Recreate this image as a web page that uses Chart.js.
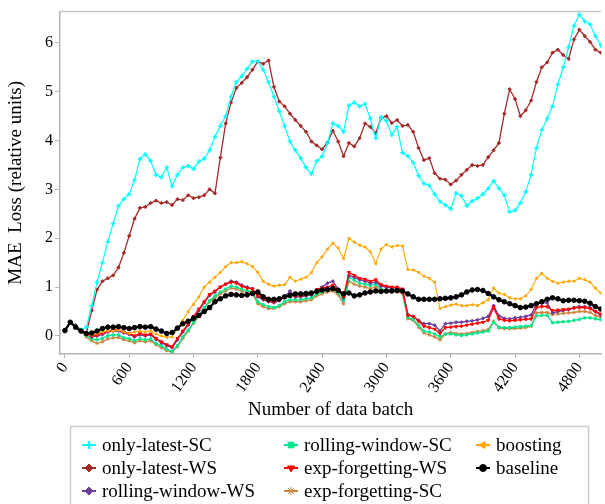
<!DOCTYPE html>
<html>
<head>
<meta charset="utf-8">
<script src="https://cdn.jsdelivr.net/npm/chart.js@4.4.1/dist/chart.umd.min.js"></script>
<style>
  html, body { margin: 0; padding: 0; background: #fff; }
  #wrap { width: 605px; height: 504px; position: relative; }
</style>
</head>
<body>
<div id="wrap"><canvas id="c" width="605" height="504"></canvas></div>
<script>
// Number of data batch (x positions of every sample)
const batches = [
  0, 50, 100, 150, 200, 250, 300, 350, 400, 450,
  500, 550, 600, 650, 700, 750, 800, 850, 900, 950,
  1000, 1050, 1100, 1150, 1200, 1250, 1300, 1350, 1400, 1450,
  1500, 1550, 1600, 1650, 1700, 1750, 1800, 1850, 1900, 1950,
  2000, 2050, 2100, 2150, 2200, 2250, 2300, 2350, 2400, 2450,
  2500, 2550, 2600, 2650, 2700, 2750, 2800, 2850, 2900, 2950,
  3000, 3050, 3100, 3150, 3200, 3250, 3300, 3350, 3400, 3450,
  3500, 3550, 3600, 3650, 3700, 3750, 3800, 3850, 3900, 3950,
  4000, 4050, 4100, 4150, 4200, 4250, 4300, 4350, 4400, 4450,
  4500, 4550, 4600, 4650, 4700, 4750, 4800, 4850, 4900, 4950,
  5000
];

// MAE loss per strategy (relative units)
const onlyLatestSC = [
  0.12, 0.28, 0.20, 0.12, 0.18, 0.62, 1.10, 1.50, 1.93, 2.30,
  2.66, 2.80, 2.90, 3.20, 3.62, 3.72, 3.58, 3.30, 3.25, 3.45,
  3.07, 3.30, 3.45, 3.48, 3.42, 3.57, 3.63, 3.80, 4.08, 4.30,
  4.50, 4.90, 5.20, 5.32, 5.47, 5.62, 5.62, 5.45, 5.20, 4.90,
  4.60, 4.30, 3.98, 3.80, 3.64, 3.45, 3.32, 3.58, 3.68, 3.95,
  4.35, 4.30, 4.18, 4.72, 4.78, 4.70, 4.75, 4.45, 4.05, 4.48,
  4.40, 4.12, 4.28, 3.75, 3.68, 3.55, 3.28, 3.12, 3.08, 2.90,
  2.75, 2.68, 2.60, 2.92, 2.87, 2.66, 2.76, 2.82, 2.90, 3.02,
  3.17, 3.02, 2.88, 2.54, 2.57, 2.72, 2.95, 3.30, 3.85, 4.22,
  4.45, 4.70, 5.15, 5.50, 5.92, 6.35, 6.58, 6.44, 6.38, 6.14,
  5.95
];
const onlyLatestWS = [
  0.12, 0.28, 0.22, 0.12, 0.06, 0.52, 0.95, 1.12, 1.18, 1.24,
  1.40, 1.70, 2.05, 2.40, 2.62, 2.64, 2.72, 2.77, 2.72, 2.74,
  2.68, 2.80, 2.78, 2.88, 2.82, 2.84, 2.88, 3.00, 2.92, 3.65,
  4.35, 4.78, 5.08, 5.18, 5.30, 5.45, 5.62, 5.57, 5.64, 5.10,
  4.80, 4.70, 4.55, 4.42, 4.30, 4.18, 3.98, 3.90, 3.82, 3.96,
  4.20, 3.98, 3.68, 3.95, 3.88, 4.05, 4.35, 4.28, 4.15, 4.46,
  4.50, 4.36, 4.42, 4.30, 4.32, 4.18, 3.85, 3.60, 3.64, 3.33,
  3.22, 3.20, 3.10, 3.18, 3.30, 3.40, 3.50, 3.48, 3.50, 3.66,
  3.80, 3.95, 4.55, 5.05, 4.85, 4.50, 4.62, 4.82, 5.20, 5.50,
  5.60, 5.80, 5.86, 5.75, 5.67, 6.07, 6.27, 6.14, 6.02, 5.86,
  5.80
];
const rollingWindowWS = [
  0.11, 0.28, 0.18, 0.10, 0.03, -0.02, 0.00, 0.03, 0.08, 0.10,
  0.10, 0.06, 0.03, -0.02, 0.02, 0.00, 0.02, -0.07, -0.14, -0.20,
  -0.24, -0.08, 0.08, 0.22, 0.38, 0.52, 0.68, 0.83, 0.90, 1.00,
  1.06, 1.12, 1.10, 1.04, 1.00, 0.97, 0.80, 0.74, 0.70, 0.68,
  0.72, 0.80, 0.92, 0.80, 0.80, 0.82, 0.84, 0.94, 1.00, 1.08,
  1.12, 0.96, 0.78, 1.24, 1.20, 1.15, 1.12, 1.08, 1.10, 1.02,
  1.00, 0.98, 0.98, 0.94, 0.44, 0.40, 0.32, 0.25, 0.25, 0.22,
  0.10, 0.25, 0.26, 0.28, 0.28, 0.30, 0.31, 0.33, 0.36, 0.40,
  0.62, 0.41, 0.36, 0.35, 0.37, 0.38, 0.40, 0.43, 0.66, 0.67,
  0.68, 0.47, 0.50, 0.52, 0.54, 0.58, 0.60, 0.60, 0.58, 0.50,
  0.42
];
const rollingWindowSC = [
  0.11, 0.28, 0.18, 0.10, 0.01, -0.06, -0.08, -0.05, 0.00, 0.02,
  0.02, -0.04, -0.06, -0.10, -0.06, -0.08, -0.06, -0.15, -0.20, -0.27,
  -0.32, -0.20, -0.02, 0.12, 0.28, 0.42, 0.58, 0.72, 0.82, 0.90,
  0.96, 1.02, 1.00, 0.96, 0.92, 0.90, 0.70, 0.64, 0.60, 0.58,
  0.62, 0.70, 0.74, 0.74, 0.74, 0.76, 0.78, 0.86, 0.90, 0.94,
  0.96, 0.88, 0.72, 1.20, 1.14, 1.08, 1.06, 1.03, 1.06, 0.96,
  0.94, 0.93, 0.93, 0.90, 0.38, 0.34, 0.22, 0.10, 0.08, 0.04,
  -0.02, 0.04, 0.04, 0.02, 0.01, 0.02, 0.04, 0.06, 0.08, 0.10,
  0.28, 0.18, 0.17, 0.17, 0.18, 0.19, 0.20, 0.21, 0.41, 0.42,
  0.42, 0.27, 0.28, 0.29, 0.30, 0.32, 0.34, 0.37, 0.37, 0.35,
  0.33
];
const expForgettingWS = [
  0.11, 0.28, 0.18, 0.10, 0.04, 0.00, 0.02, 0.05, 0.10, 0.12,
  0.13, 0.08, 0.05, 0.00, 0.05, 0.02, 0.04, -0.05, -0.12, -0.18,
  -0.22, -0.05, 0.10, 0.25, 0.40, 0.55, 0.70, 0.85, 0.92, 1.00,
  1.06, 1.10, 1.08, 1.02, 0.98, 0.96, 0.82, 0.76, 0.72, 0.70,
  0.74, 0.80, 0.82, 0.82, 0.82, 0.84, 0.86, 0.95, 0.98, 1.00,
  1.04, 0.95, 0.80, 1.30, 1.24, 1.18, 1.16, 1.12, 1.15, 1.05,
  1.02, 1.00, 1.00, 0.96, 0.42, 0.40, 0.30, 0.20, 0.17, 0.14,
  0.05, 0.17, 0.18, 0.19, 0.20, 0.22, 0.24, 0.26, 0.28, 0.32,
  0.58, 0.35, 0.32, 0.31, 0.32, 0.33, 0.34, 0.35, 0.58, 0.60,
  0.60, 0.52, 0.53, 0.54, 0.55, 0.57, 0.58, 0.58, 0.56, 0.50,
  0.45
];
const expForgettingSC = [
  0.11, 0.28, 0.18, 0.10, -0.02, -0.10, -0.15, -0.12, -0.06, -0.04,
  -0.03, -0.08, -0.10, -0.14, -0.10, -0.12, -0.10, -0.18, -0.24, -0.30,
  -0.33, -0.22, -0.05, 0.10, 0.26, 0.40, 0.56, 0.70, 0.78, 0.86,
  0.92, 0.98, 0.96, 0.92, 0.88, 0.86, 0.66, 0.60, 0.56, 0.56,
  0.60, 0.66, 0.70, 0.70, 0.70, 0.72, 0.74, 0.82, 0.86, 0.90,
  0.92, 0.84, 0.66, 1.12, 1.06, 1.02, 1.00, 0.97, 1.00, 0.92,
  0.90, 0.90, 0.90, 0.87, 0.35, 0.32, 0.18, 0.06, 0.02, -0.02,
  -0.08, 0.04, 0.07, 0.05, 0.04, 0.05, 0.07, 0.09, 0.11, 0.13,
  0.30, 0.16, 0.15, 0.15, 0.15, 0.16, 0.17, 0.20, 0.47, 0.48,
  0.48, 0.44, 0.45, 0.46, 0.47, 0.48, 0.50, 0.50, 0.48, 0.42,
  0.38
];
const boosting = [
  0.11, 0.28, 0.18, 0.10, 0.02, 0.02, 0.05, 0.08, 0.10, 0.10,
  0.12, 0.08, 0.05, 0.08, 0.10, 0.08, 0.10, 0.04, 0.00, -0.03,
  -0.02, 0.15, 0.32, 0.50, 0.65, 0.80, 1.00, 1.10, 1.20, 1.30,
  1.42, 1.50, 1.50, 1.52, 1.48, 1.42, 1.30, 1.12, 1.06, 1.02,
  1.04, 1.05, 1.20, 1.12, 1.16, 1.20, 1.30, 1.50, 1.62, 1.78,
  1.90, 1.80, 1.58, 2.00, 1.92, 1.86, 1.82, 1.72, 1.48, 1.78,
  1.87, 1.82, 1.85, 1.84, 1.36, 1.35, 1.30, 1.22, 1.18, 1.10,
  0.56, 0.60, 0.63, 0.65, 0.62, 0.62, 0.64, 0.62, 0.68, 0.74,
  0.98, 0.88, 0.85, 0.78, 0.76, 0.76, 0.82, 0.95, 1.18, 1.28,
  1.18, 1.12, 1.08, 1.10, 1.12, 1.12, 1.18, 1.15, 1.10, 0.98,
  0.88
];
const baseline = [
  0.11, 0.28, 0.18, 0.10, 0.05, 0.06, 0.10, 0.15, 0.18, 0.18,
  0.19, 0.17, 0.15, 0.17, 0.19, 0.18, 0.19, 0.14, 0.10, 0.05,
  0.07, 0.16, 0.25, 0.30, 0.36, 0.42, 0.50, 0.58, 0.70, 0.76,
  0.82, 0.85, 0.84, 0.83, 0.84, 0.87, 0.90, 0.80, 0.75, 0.75,
  0.76, 0.80, 0.83, 0.86, 0.86, 0.87, 0.88, 0.91, 0.94, 0.95,
  0.97, 0.93, 0.86, 0.88, 0.82, 0.84, 0.88, 0.90, 0.92, 0.91,
  0.92, 0.92, 0.93, 0.92, 0.86, 0.80, 0.75, 0.75, 0.75, 0.75,
  0.76, 0.77, 0.78, 0.80, 0.84, 0.90, 0.94, 0.95, 0.93, 0.87,
  0.80, 0.74, 0.70, 0.66, 0.62, 0.58, 0.59, 0.62, 0.66, 0.70,
  0.75, 0.78, 0.76, 0.72, 0.73, 0.73, 0.72, 0.71, 0.67, 0.60,
  0.55
];

// Axis tick values
const xTickValues = [0, 600, 1200, 1800, 2400, 3000, 3600, 4200, 4800];
const yTickValues = [0, 1, 2, 3, 4, 5, 6];

const seriesNames = [
  'only-latest-SC', 'only-latest-WS', 'rolling-window-WS',
  'rolling-window-SC', 'exp-forgetting-WS', 'exp-forgetting-SC',
  'boosting', 'baseline'
];
const seriesValues = [
  onlyLatestSC, onlyLatestWS, rollingWindowWS,
  rollingWindowSC, expForgettingWS, expForgettingSC,
  boosting, baseline
];

// Visual style of each series: colour, marker, draw order (lower = on top)
const styles = [
  { color: '#00ffff', pointStyle: 'cross',    rotation: 0,   radius: 2.2, pbw: 1.5, lw: 1.2, order: 2 },
  { color: '#a52a2a', pointStyle: 'rectRot',  rotation: 0,   radius: 1.7, pbw: 1,   lw: 1.3, order: 3 },
  { color: '#6a3d9a', pointStyle: 'rectRot',  rotation: 0,   radius: 1.6, pbw: 1,   lw: 1.3, order: 5 },
  { color: '#00e68c', pointStyle: 'rect',     rotation: 0,   radius: 1.5, pbw: 1,   lw: 1.3, order: 6 },
  { color: '#ff0000', pointStyle: 'triangle', rotation: 180, radius: 1.8, pbw: 1,   lw: 1.3, order: 4 },
  { color: '#cd853f', pointStyle: 'star',     rotation: 0,   radius: 1.8, pbw: 1,   lw: 1.3, order: 7 },
  { color: '#ffa500', pointStyle: 'triangle', rotation: 270, radius: 1.5, pbw: 1,   lw: 1.1, order: 1 },
  { color: '#000000', pointStyle: 'circle',   rotation: 0,   radius: 2.3, pbw: 1,   lw: 2.2, order: 0 }
];

const datasets = seriesNames.map((name, k) => {
  const s = styles[k];
  return {
    label: name,
    data: batches.map((b, i) => ({ x: b, y: seriesValues[k][i] })),
    borderColor: s.color,
    backgroundColor: s.color,
    borderWidth: s.lw,
    pointStyle: s.pointStyle,
    pointRotation: s.rotation,
    pointRadius: s.radius,
    pointHoverRadius: s.radius,
    pointBorderWidth: s.pbw,
    pointBackgroundColor: s.color,
    pointBorderColor: s.color,
    tension: 0,
    order: s.order
  };
});

const SERIF = "'Liberation Serif', 'Times New Roman', serif";
const AXIS_GREY = '#b4b4b4';

// Thin frame line along the top of the plot area
const topFrame = {
  id: 'topFrame',
  afterDraw(chart) {
    const { ctx, chartArea: a } = chart;
    ctx.save();
    ctx.strokeStyle = '#c8c8c8';
    ctx.lineWidth = 1.5;
    ctx.beginPath();
    ctx.moveTo(a.left, a.top);
    ctx.lineTo(a.right, a.top);
    ctx.stroke();
    ctx.restore();
  }
};

// Three-column legend in a framed box under the x-axis (filled column by column)
const boxLegend = {
  id: 'boxLegend',
  afterDraw(chart) {
    const ctx = chart.ctx;
    const textX = [102, 304, 496];
    const rowY = [445, 468, 491];
    ctx.save();
    ctx.strokeStyle = '#cccccc';
    ctx.lineWidth = 1.5;
    ctx.strokeRect(70.5, 426.5, 518, 100);
    ctx.font = '19px ' + SERIF;
    ctx.textBaseline = 'middle';
    ctx.textAlign = 'left';
    chart.data.datasets.forEach((ds, i) => {
      const col = Math.floor(i / 3), row = i % 3;
      const tx = textX[col], ty = rowY[row];
      const s = styles[i];
      ctx.strokeStyle = s.color;
      ctx.fillStyle = s.color;
      ctx.lineWidth = 2;
      ctx.beginPath();
      ctx.moveTo(tx - 20, ty);
      ctx.lineTo(tx - 6, ty);
      ctx.stroke();
      ctx.lineWidth = s.pointStyle === 'cross' ? 2.2 : 1;
      Chart.helpers.drawPoint(ctx, {
        pointStyle: s.pointStyle,
        rotation: s.rotation,
        radius: s.pointStyle === 'circle' ? 3.5 : 4,
        borderWidth: ctx.lineWidth
      }, tx - 13, ty);
      ctx.fillStyle = '#000';
      ctx.fillText(ds.label, tx, ty + 1);
    });
    ctx.restore();
  }
};

new Chart(document.getElementById('c'), {
  type: 'line',
  data: { datasets },
  plugins: [topFrame, boxLegend],
  options: {
    responsive: false,
    animation: false,
    events: [],
    layout: { padding: { left: 0, right: 1, top: 7, bottom: 83 } },
    plugins: { legend: { display: false }, tooltip: { enabled: false } },
    scales: {
      x: {
        type: 'linear',
        min: -46,
        max: 5005,
        afterBuildTicks: (scale) => { scale.ticks = xTickValues.map(v => ({ value: v })); },
        afterFit: (scale) => { scale.height = 67; },
        ticks: {
          color: '#000',
          font: { family: SERIF, size: 16 },
          minRotation: 55,
          maxRotation: 55,
          padding: 1,
          callback: (v) => String(v)
        },
        grid: { drawOnChartArea: false, drawTicks: true, tickLength: 4, color: AXIS_GREY, lineWidth: 1 },
        border: { display: true, color: AXIS_GREY, width: 1.5 },
        title: {
          display: true,
          text: 'Number of data batch',
          color: '#000',
          font: { family: SERIF, size: 19 },
          padding: { top: 0, bottom: 0 }
        }
      },
      y: {
        type: 'linear',
        min: -0.37,
        max: 6.64,
        afterBuildTicks: (scale) => { scale.ticks = yTickValues.map(v => ({ value: v })); },
        afterFit: (scale) => { scale.width = 60; },
        ticks: {
          color: '#000',
          font: { family: SERIF, size: 16 },
          padding: 2,
          callback: (v) => String(v)
        },
        grid: { drawOnChartArea: false, drawTicks: true, tickLength: 5, color: AXIS_GREY, lineWidth: 1 },
        border: { display: true, color: AXIS_GREY, width: 1.5 },
        title: {
          display: true,
          text: 'MAE  Loss (relative units)',
          color: '#000',
          font: { family: SERIF, size: 19 },
          padding: { top: 5, bottom: 0 }
        }
      }
    }
  }
});
</script>
</body>
</html>
